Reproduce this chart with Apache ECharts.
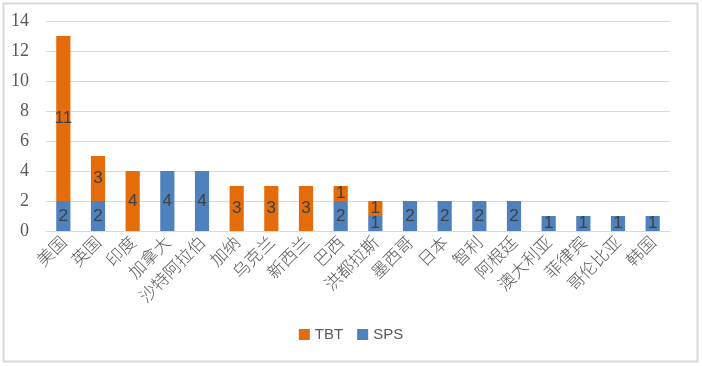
<!DOCTYPE html>
<html><head><meta charset="utf-8">
<script src="https://cdn.jsdelivr.net/npm/echarts@6/dist/echarts.min.js"></script>
<style>html,body{margin:0;padding:0;background:#fff}#c{width:702px;height:366px}</style>
</head><body><div id="c"></div>
<script>
const categories = ['美国','英国','印度','加拿大','沙特阿拉伯','加纳','乌克兰','新西兰','巴西','洪都拉斯','墨西哥','日本','智利','阿根廷','澳大利亚','菲律宾','哥伦比亚','韩国'];
const sps = [2,2,0,4,4,0,0,0,2,1,2,2,2,2,1,1,1,1];
const tbt = [11,3,4,0,0,3,3,3,1,1,0,0,0,0,0,0,0,0];
const yTicks = [0,2,4,6,8,10,12,14];

const chart = echarts.init(document.getElementById('c'));
const lbl = {show:true, position:'inside', color:'#404040', fontSize:17, fontFamily:'Liberation Sans',
  formatter: p => p.value ? p.value : ''};
chart.setOption({
  animation:false,
  graphic:[{type:'rect', shape:{x:3.5,y:3.5,width:694,height:358}, style:{fill:'none', stroke:'#d9d9d9', lineWidth:2}}],
  grid:{left:46, right:32, top:21, bottom:135},
  legend:{data:['TBT','SPS'], bottom:19, left:'center', itemWidth:11, itemHeight:11, itemGap:14, icon:'rect',
    textStyle:{color:'#595959', fontSize:15, fontFamily:'Liberation Sans'}},
  xAxis:{type:'category', data:categories,
    axisLine:{lineStyle:{color:'#d9d9d9'}}, axisTick:{show:false},
    axisLabel:{rotate:45, interval:0, color:'#595959', fontSize:17, fontFamily:'Noto Sans CJK SC', fontWeight:300, margin:8}},
  yAxis:{type:'value', min:0, max:14, interval:2,
    axisLabel:{color:'#595959', fontSize:18, fontFamily:'"Liberation Serif", "DejaVu Serif", serif', margin:17,
      formatter: v => yTicks.includes(v) ? String(v) : ''},
    splitLine:{lineStyle:{color:'#d9d9d9'}}, axisLine:{show:false}, axisTick:{show:false}},
  series:[
    {name:'SPS', type:'bar', stack:'a', data:sps, barWidth:'41%', itemStyle:{color:'#4F81BD'}, label:lbl},
    {name:'TBT', type:'bar', stack:'a', data:tbt, itemStyle:{color:'#E46C0A'}, label:lbl}
  ]
});
</script></body></html>
